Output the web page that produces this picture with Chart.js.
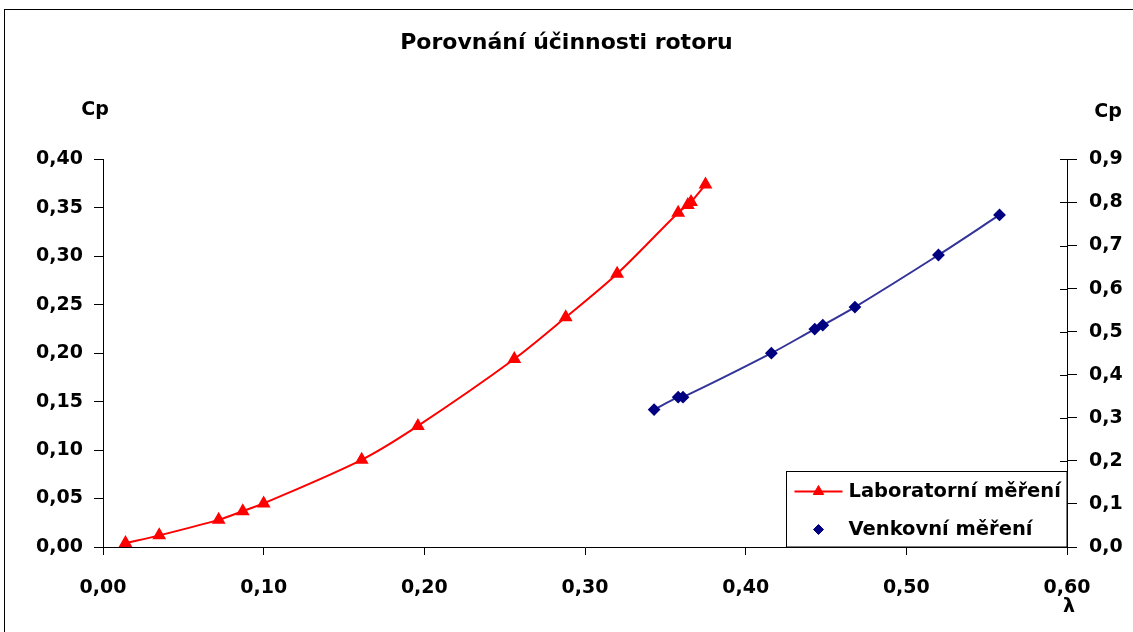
<!DOCTYPE html>
<html>
<head>
<meta charset="utf-8">
<script src="https://cdn.jsdelivr.net/npm/chart.js@4"></script>
<style>
  body { margin: 0; background: #fff; }
  canvas { display: block; }
</style>
</head>
<body>
<canvas id="graf" width="1133" height="632"></canvas>
<script>
// laboratorni mereni (leva osa)
const lambdaLab = [0.014, 0.035, 0.072, 0.087, 0.100, 0.161, 0.196, 0.256, 0.288, 0.320, 0.358, 0.364, 0.366, 0.375];
const cpLab = [0.004, 0.012, 0.028, 0.037, 0.045, 0.090, 0.125, 0.194, 0.237, 0.282, 0.345, 0.353, 0.356, 0.374];

// venkovni mereni (prava osa)
const lambdaVenk = [0.343, 0.358, 0.361, 0.416, 0.443, 0.448, 0.468, 0.520, 0.558];
const cpVenk = [0.319, 0.348, 0.348, 0.450, 0.506, 0.515, 0.557, 0.678, 0.771];

const nazvy = ["Laboratorní měření", "Venkovní měření"];
const titulek = "Porovnání účinnosti rotoru";
const osaY = "Cp";
const osaX = "λ";

const carka = (v, d) => Number(v).toFixed(d).replace(".", ",");
const FONT = "DejaVu Sans";

Chart.defaults.font.family = FONT;
Chart.defaults.font.weight = "bold";
Chart.defaults.font.size = 19;
Chart.defaults.color = "#000";

/* popisky os, legenda a ramecek */
const doplnky = {
    id: "doplnky",
    beforeDraw(chart) {
        const ctx = chart.ctx;
        ctx.save();
        ctx.fillStyle = "#fff";
        ctx.fillRect(0, 0, chart.width, chart.height);
        ctx.strokeStyle = "#000";
        ctx.lineWidth = 1;
        ctx.strokeRect(4.5, 9.5, chart.width + 20, chart.height + 20);
        ctx.restore();
    },
    afterDraw(chart) {
        const ctx = chart.ctx;
        const a = chart.chartArea;
        ctx.save();
        ctx.fillStyle = "#000";
        ctx.font = `bold 19px ${FONT}`;
        ctx.textAlign = "center";
        ctx.textBaseline = "middle";
        ctx.fillText(osaY, a.left - 8, a.top - 49);
        ctx.fillText(osaY, a.right + 41, a.top - 47);
        ctx.fillText(osaX, a.right + 2, a.bottom + 60);

        // vnitrni pulky znacek na prave ose
        const y2 = chart.scales.y2;
        ctx.strokeStyle = "#000";
        ctx.lineWidth = 1;
        y2.ticks.forEach(t => {
            const py = Math.round(y2.getPixelForValue(t.value)) + 0.5;
            ctx.beginPath();
            ctx.moveTo(a.right - 7, py);
            ctx.lineTo(a.right, py);
            ctx.stroke();
        });

        // legenda
        const lx = 786.5, ly = 471.5, lw = a.right - lx, lh = a.bottom - ly;
        ctx.fillStyle = "#fff";
        ctx.fillRect(lx, ly, lw, lh);
        ctx.strokeRect(lx, ly, lw, lh);

        ctx.font = `bold 19.5px ${FONT}`;
        const ds = chart.data.datasets;
        const rady = [ly + 20, ly + 58];
        ds.forEach((d, i) => {
            const cy = rady[i];
            if (i === 0) {
                ctx.strokeStyle = d.borderColor;
                ctx.lineWidth = 2;
                ctx.beginPath();
                ctx.moveTo(lx + 8, cy);
                ctx.lineTo(lx + 56, cy);
                ctx.stroke();
            }
            ctx.fillStyle = d.pointBackgroundColor;
            ctx.strokeStyle = d.pointBorderColor;
            ctx.lineWidth = 1;
            Chart.helpers.drawPoint(ctx, {
                pointStyle: d.pointStyle,
                radius: i === 0 ? 6 : 5,
                borderWidth: 1
            }, lx + 32, cy);
            ctx.fillStyle = "#000";
            ctx.textAlign = "left";
            ctx.fillText(d.label, lx + 62, cy);
        });
        ctx.restore();
    }
};

new Chart(document.getElementById("graf"), {
    type: "scatter",
    data: {
        datasets: [{
            label: nazvy[0],
            data: lambdaLab.map((x, i) => ({ x: x, y: cpLab[i] })),
            showLine: true,
            tension: 0.3,
            borderColor: "#ff0000",
            borderWidth: 2,
            pointStyle: "triangle",
            pointRadius: 6,
            pointBackgroundColor: "#ff0000",
            pointBorderColor: "#ff0000",
            yAxisID: "y"
        }, {
            label: nazvy[1],
            data: lambdaVenk.map((x, i) => ({ x: x, y: cpVenk[i] })),
            showLine: true,
            tension: 0.3,
            borderColor: "#333399",
            borderWidth: 2,
            pointStyle: "rectRot",
            pointRadius: 5,
            pointBackgroundColor: "#000080",
            pointBorderColor: "#000080",
            yAxisID: "y2"
        }]
    },
    options: {
        responsive: false,
        animation: false,
        devicePixelRatio: 1,
        layout: { padding: 0 },
        plugins: {
            legend: { display: false },
            tooltip: { enabled: false },
            title: {
                display: true,
                text: titulek,
                font: { size: 22, weight: "bold" },
                padding: { top: 30, bottom: 103 }
            }
        },
        scales: {
            x: {
                type: "linear",
                min: 0,
                max: 0.6,
                border: { color: "#000", width: 1 },
                grid: { drawOnChartArea: false, tickLength: 8, tickColor: "#000" },
                ticks: { stepSize: 0.1, padding: 22, callback: v => carka(v, 2) },
                afterFit: s => { s.height = 85; }
            },
            y: {
                position: "left",
                min: 0,
                max: 0.4,
                border: { color: "#000", width: 1 },
                grid: { drawOnChartArea: false, tickLength: 9, tickColor: "#000" },
                ticks: { stepSize: 0.05, padding: 11, callback: v => carka(v, 2) },
                afterFit: s => { s.width = 103; }
            },
            y2: {
                position: "right",
                min: 0,
                max: 0.9,
                border: { color: "#000", width: 1 },
                grid: { drawOnChartArea: false, tickLength: 10, tickColor: "#000" },
                ticks: { stepSize: 0.1, padding: 12, callback: v => carka(v, 1) },
                afterFit: s => { s.width = 66; }
            }
        }
    },
    plugins: [doplnky]
});
</script>
</body>
</html>
